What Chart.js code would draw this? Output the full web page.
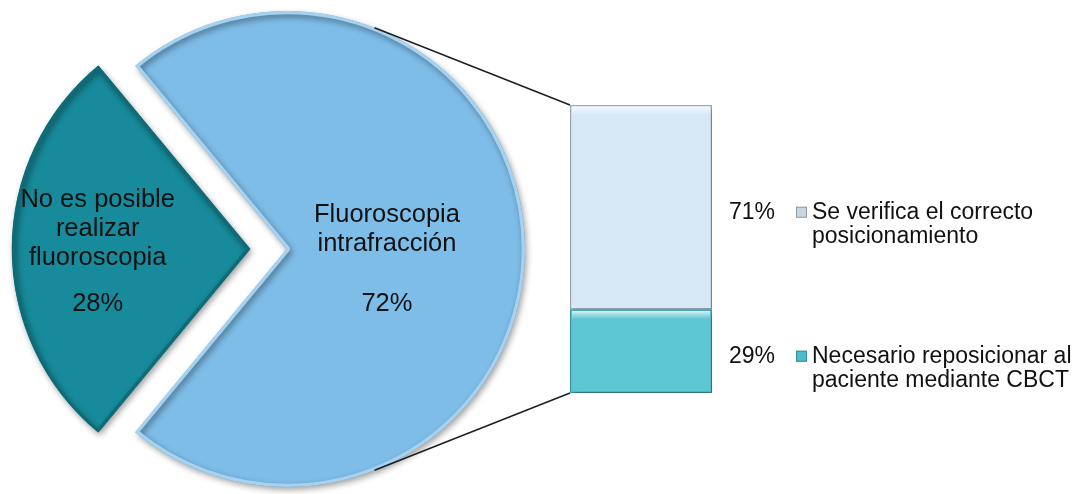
<!DOCTYPE html>
<html lang="es">
<head>
<meta charset="utf-8">
<script src="https://cdn.jsdelivr.net/npm/chart.js@4.4.1/dist/chart.umd.min.js"></script>
<style>
  html, body { margin: 0; padding: 0; background: #ffffff; }
  #wrap { position: relative; width: 1077px; height: 494px; overflow: hidden; }
  #wrap canvas { position: absolute; left: 0; top: 0; }
</style>
</head>
<body>
<div id="wrap">
  <canvas id="pie" width="1077" height="494"></canvas>
  <canvas id="bar" width="1077" height="494"></canvas>
</div>
<script>
// Main pie: was intrafraction fluoroscopy possible?
const pieCategories = [
  ['No es posible', 'realizar', 'fluoroscopia'],
  ['Fluoroscopia', 'intrafracción']
];
const pieValues = [28, 72];
const pieColors = ['#178b9b', '#7ebde8'];
const pieEdgeColors = ['#0f6b78', '#a4d2f0'];

// Breakdown of the fluoroscopy slice (stacked from the bottom up)
const barCategories = [
  ['Necesario reposicionar al', 'paciente mediante CBCT'],
  ['Se verifica el correcto', 'posicionamiento']
];
const barValues = [29, 71];
const barColors = ['#5cc6d2', '#d7e9f7'];
const barEdgeColors = ['#3f9fab', '#a3adb6'];
const legendSwatches = ['#4dbccb', '#c9d6e1'];
const legendSwatchEdges = ['#2f8f9c', '#8e9ba7'];

const FONT = "'Liberation Sans', Arial, Helvetica, sans-serif";
const TEXT = '#111111';

const pieTotal = pieValues.reduce((a, b) => a + b, 0);
const barTotal = barValues.reduce((a, b) => a + b, 0);
const pct = (v, t) => Math.round(v / t * 100) + '%';

// Drop shadow under every dataset element
const softShadow = {
  id: 'softShadow',
  beforeDatasetsDraw(chart, args, opts) {
    const c = chart.ctx;
    c.save();
    c.shadowColor = opts.color;
    c.shadowBlur = opts.blur;
    c.shadowOffsetX = opts.dx;
    c.shadowOffsetY = opts.dy;
  },
  afterDatasetsDraw(chart) {
    chart.ctx.restore();
  }
};

// Category name and percentage inside each slice
const sliceLabels = {
  id: 'sliceLabels',
  afterDatasetsDraw(chart, args, opts) {
    const ctx = chart.ctx;
    const arcs = chart.getDatasetMeta(0).data;
    ctx.save();
    ctx.fillStyle = TEXT;
    ctx.textAlign = 'center';
    ctx.textBaseline = 'alphabetic';
    ctx.font = '25.5px ' + FONT;
    arcs.forEach((arc, i) => {
      const mid = (arc.startAngle + arc.endAngle) / 2;
      const shift = (arc.options.offset || 0) / 4;
      const cx = arc.x + Math.cos(mid) * shift;
      const cy = arc.y + Math.sin(mid) * shift;
      const ax = cx + Math.cos(mid) * arc.outerRadius * opts.reach[i];
      const ay = cy + Math.sin(mid) * arc.outerRadius * opts.reach[i];
      const lines = pieCategories[i];
      const first = ay - 13 - (lines.length - 1) * 29 / 2;
      lines.forEach((t, j) => ctx.fillText(t, ax, first + j * 29));
      ctx.fillText(pct(pieValues[i], pieTotal), ax, ay + 62);
    });
    ctx.restore();
  }
};

const pieChart = new Chart(document.getElementById('pie'), {
  type: 'pie',
  data: {
    labels: pieCategories.map(l => l.join(' ')),
    datasets: [{
      data: pieValues,
      backgroundColor: pieColors,
      borderColor: pieEdgeColors,
      borderWidth: 3,
      borderAlign: 'inner',
      offset: [148, 0]
    }]
  },
  options: {
    responsive: false,
    animation: false,
    events: [],
    radius: 238,
    // first slice centred on the left-hand side
    rotation: 270 - (pieValues[0] / pieTotal) * 180,
    layout: { padding: { left: 0, right: 503, top: 4, bottom: 0 } },
    plugins: {
      legend: { display: false },
      tooltip: { enabled: false },
      softShadow: { color: 'rgba(0,0,0,0.38)', blur: 6, dx: 2, dy: 3 },
      sliceLabels: { reach: [0.64, 0.42] }
    }
  },
  plugins: [softShadow, sliceLabels]
});

// Lines from the fluoroscopy slice to the bar's top and bottom corners
const connectors = {
  id: 'connectors',
  beforeDatasetsDraw(chart) {
    const arc = pieChart.getDatasetMeta(0).data[1];
    const topSeg = chart.getDatasetMeta(1).data[0];
    const botSeg = chart.getDatasetMeta(0).data[0];
    const corners = [
      [topSeg.x - topSeg.width / 2, topSeg.y, -1],
      [botSeg.x - botSeg.width / 2, botSeg.base, 1]
    ];
    const ctx = chart.ctx;
    ctx.save();
    ctx.strokeStyle = '#1e1e1e';
    ctx.lineWidth = 1.5;
    corners.forEach(([px, py, side]) => {
      const dx = px - arc.x, dy = py - arc.y;
      const d = Math.hypot(dx, dy);
      const a = Math.atan2(dy, dx) + side * Math.acos(arc.outerRadius / d);
      ctx.beginPath();
      ctx.moveTo(arc.x + Math.cos(a) * arc.outerRadius, arc.y + Math.sin(a) * arc.outerRadius);
      ctx.lineTo(px, py);
      ctx.stroke();
    });
    ctx.restore();
  }
};

// Light bevel along the top edge of each bar segment
const segmentGloss = {
  id: 'segmentGloss',
  afterDatasetsDraw(chart) {
    const ctx = chart.ctx;
    ctx.save();
    chart.data.datasets.forEach((ds, i) => {
      const el = chart.getDatasetMeta(i).data[0];
      const left = el.x - el.width / 2 + 2;
      const top = el.y + 1.5;
      const g = ctx.createLinearGradient(0, top, 0, top + 8);
      g.addColorStop(0, 'rgba(255,255,255,0.75)');
      g.addColorStop(1, 'rgba(255,255,255,0)');
      ctx.fillStyle = g;
      ctx.fillRect(left, top, el.width - 4, 8);
    });
    ctx.restore();
  }
};

// Percentages and legend entries beside each segment
const segmentLegend = {
  id: 'segmentLegend',
  afterDraw(chart) {
    const ctx = chart.ctx;
    const right = chart.chartArea.right;
    ctx.save();
    ctx.font = '23px ' + FONT;
    ctx.fillStyle = TEXT;
    ctx.textBaseline = 'alphabetic';
    chart.data.datasets.forEach((ds, i) => {
      const el = chart.getDatasetMeta(i).data[0];
      const base = (el.y + el.base) / 2 + 11.5;
      ctx.textAlign = 'right';
      ctx.fillStyle = TEXT;
      ctx.fillText(pct(barValues[i], barTotal), right + 63, base);
      ctx.fillStyle = legendSwatches[i];
      ctx.strokeStyle = legendSwatchEdges[i];
      ctx.lineWidth = 1;
      ctx.fillRect(right + 84, base - 12, 11, 11);
      ctx.strokeRect(right + 84.5, base - 11.5, 10, 10);
      ctx.textAlign = 'left';
      ctx.fillStyle = TEXT;
      barCategories[i].forEach((t, j) => ctx.fillText(t, right + 100, base + j * 24));
    });
    ctx.restore();
  }
};

const barChart = new Chart(document.getElementById('bar'), {
  type: 'bar',
  data: {
    labels: [''],
    datasets: barValues.map((v, i) => ({
      label: barCategories[i].join(' '),
      data: [v],
      backgroundColor: barColors[i],
      borderColor: barEdgeColors[i],
      borderWidth: 1.5,
      borderSkipped: false,
      barPercentage: 1,
      categoryPercentage: 1
    }))
  },
  options: {
    responsive: false,
    animation: false,
    events: [],
    layout: { padding: { left: 570, right: 365, top: 105, bottom: 101 } },
    scales: {
      x: { stacked: true, display: false },
      y: { stacked: true, display: false, min: 0, max: 100 }
    },
    plugins: {
      legend: { display: false },
      tooltip: { enabled: false },
      softShadow: { color: 'rgba(0,0,0,0.35)', blur: 5, dx: 2, dy: 3 }
    }
  },
  plugins: [connectors, softShadow, segmentGloss, segmentLegend]
});
</script>
</body>
</html>
